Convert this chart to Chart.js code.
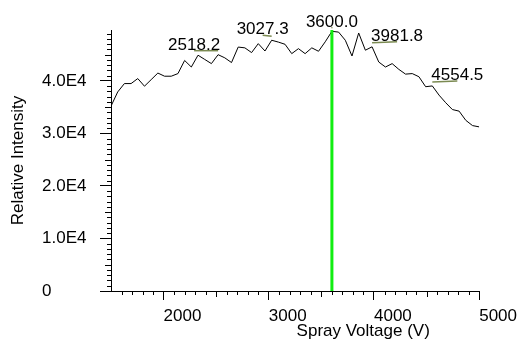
<!DOCTYPE html>
<html lang="en">
<head>
  <meta charset="UTF-8">
  <title>Spray Voltage Scan</title>
  <script src="https://cdn.jsdelivr.net/npm/chart.js"></script>
  <style>
    html, body { margin: 0; padding: 0; background: #fff; }
  </style>
</head>
<body>
  <canvas id="voltageChart" width="523" height="343"></canvas>

  <script>
    // spray voltage steps (V) and measured intensity
    const voltage = [
      1500.0, 1563.6, 1627.3, 1690.9, 1754.5, 1818.2, 1881.8, 1945.5, 2009.1, 2072.7,
      2136.4, 2200.0, 2263.6, 2327.3, 2390.9, 2454.5, 2518.2, 2581.8, 2645.5, 2709.1,
      2772.7, 2836.4, 2900.0, 2963.6, 3027.3, 3090.9, 3154.5, 3218.2, 3281.8, 3345.5,
      3409.1, 3472.7, 3536.4, 3600.0, 3663.6, 3727.3, 3790.9, 3854.5, 3918.2, 3981.8,
      4045.5, 4109.1, 4172.7, 4236.4, 4300.0, 4363.6, 4427.3, 4490.9, 4554.5, 4618.2,
      4681.8, 4745.5, 4809.1, 4872.7, 4936.4, 5000.0
    ];
    const intensity = [
      35200, 37900, 39500, 39500, 40450, 39000, 40250, 41500, 40900, 40900,
      41400, 43900, 42650, 44900, 44100, 43300, 45000, 44400, 43500, 46450,
      46300, 45400, 47100, 45700, 47750, 47400, 46980, 45200, 46150, 45200,
      46300, 45650, 47450, 49450, 49300, 47750, 44750, 49130, 45850, 46500,
      43600, 42650, 43300, 42200, 41300, 41400, 40800, 38900, 39050, 37300,
      35850, 34550, 34250, 32500, 31500, 31250
    ];
    const peakLabels = [2518.2, 3027.3, 3600.0, 3981.8, 4554.5];
    const markerVoltage = 3600.0;
    const xTicks = [2000, 3000, 4000, 5000];
    const yTicks = [0, 10000, 20000, 30000, 40000];
    const xTitle = 'Spray Voltage (V)';
    const yTitle = 'Relative Intensity';

    // where each peak label sits relative to its point (px)
    const labelShift = [[-24, -5], [-9, -6], [0, -4], [25, -6], [25, -6]];

    Chart.defaults.font.family = '"Liberation Sans", Arial, sans-serif';
    Chart.defaults.font.size = 17;
    Chart.defaults.color = '#000';

    const extras = {
      id: 'extras',
      afterDatasetsDraw(chart) {
        const { ctx, chartArea, scales: { x, y } } = chart;
        ctx.save();

        // green marker at the optimum voltage
        const gx = x.getPixelForValue(markerVoltage);
        ctx.strokeStyle = '#11ee11';
        ctx.lineWidth = 3;
        ctx.beginPath();
        ctx.moveTo(gx, chartArea.top);
        ctx.lineTo(gx, chartArea.bottom);
        ctx.stroke();

        // peak labels with little leader lines
        ctx.font = '17px "Liberation Sans", Arial, sans-serif';
        ctx.fillStyle = '#000';
        ctx.textAlign = 'center';
        ctx.textBaseline = 'alphabetic';
        peakLabels.forEach((p, i) => {
          const idx = voltage.findIndex(v => Math.abs(v - p) < 1);
          const px = x.getPixelForValue(voltage[idx]);
          const py = y.getPixelForValue(intensity[idx]);
          const tx = px + labelShift[i][0];
          const ty = py + labelShift[i][1];
          ctx.strokeStyle = '#7b8a52';
          ctx.lineWidth = 1.5;
          ctx.beginPath();
          ctx.moveTo(px, py - 4);
          ctx.lineTo(tx, ty + 1);
          ctx.stroke();
          ctx.fillText(p.toFixed(1), tx, ty);
        });
        ctx.restore();
      },
      afterDraw(chart) {
        const { ctx, chartArea, scales: { x, y } } = chart;
        ctx.save();
        ctx.strokeStyle = '#000';
        ctx.lineWidth = 1;
        ctx.beginPath();
        // minor ticks on x
        for (let v = 1600; v < 5000; v += 100) {
          if (v % 1000 === 0) continue;
          const px = Math.round(x.getPixelForValue(v)) + 0.5;
          const len = v % 500 === 0 ? 6 : 4;
          ctx.moveTo(px, chartArea.bottom);
          ctx.lineTo(px, chartArea.bottom + len);
        }
        // minor ticks on y
        for (let v = 1000; v < y.max; v += 1000) {
          if (v % 10000 === 0) continue;
          const py = Math.round(y.getPixelForValue(v)) + 0.5;
          const len = v % 5000 === 0 ? 6 : 4;
          ctx.moveTo(chartArea.left, py);
          ctx.lineTo(chartArea.left - len, py);
        }
        ctx.stroke();

        // axis titles
        ctx.fillStyle = '#000';
        ctx.font = '17px "Liberation Sans", Arial, sans-serif';
        ctx.textAlign = 'center';
        ctx.textBaseline = 'alphabetic';
        ctx.fillText(xTitle, chartArea.left + 0.685 * (chartArea.right - chartArea.left), chartArea.bottom + 45);
        ctx.translate(18, (chartArea.top + chartArea.bottom) / 2);
        ctx.rotate(-Math.PI / 2);
        ctx.textBaseline = 'middle';
        ctx.fillText(yTitle, 0, 0);
        ctx.restore();
      }
    };

    new Chart(voltageChart, {
      type: 'line',
      data: {
        datasets: [{
          data: voltage.map((v, i) => ({ x: v, y: intensity[i] })),
          borderColor: '#000',
          borderWidth: 1,
          pointRadius: 0,
          tension: 0,
          fill: false
        }]
      },
      options: {
        responsive: false,
        animation: false,
        layout: { padding: { left: 42, top: 30, right: 39, bottom: 0 } },
        plugins: { legend: { display: false }, tooltip: { enabled: false } },
        scales: {
          x: {
            type: 'linear',
            min: 1500,
            max: 5000,
            afterBuildTicks: s => { s.ticks = xTicks.map(v => ({ value: v })); },
            afterFit: s => { s.height = 52; },
            grid: { drawOnChartArea: false, tickLength: 9, color: '#000' },
            border: { color: '#000' },
            ticks: { align: 'start', padding: 6, maxRotation: 0, autoSkip: false, callback: v => String(v) }
          },
          y: {
            min: 0,
            max: 49700,
            afterBuildTicks: s => { s.ticks = yTicks.map(v => ({ value: v })); },
            afterFit: s => { s.width = 69; },
            grid: { drawOnChartArea: false, tickLength: 11, color: '#000' },
            border: { color: '#000' },
            ticks: {
              crossAlign: 'far',
              padding: 14,
              callback: v => v === 0 ? '0' : (v / 10000).toFixed(1) + 'E4'
            }
          }
        }
      },
      plugins: [extras]
    });
  </script>
</body>
</html>
